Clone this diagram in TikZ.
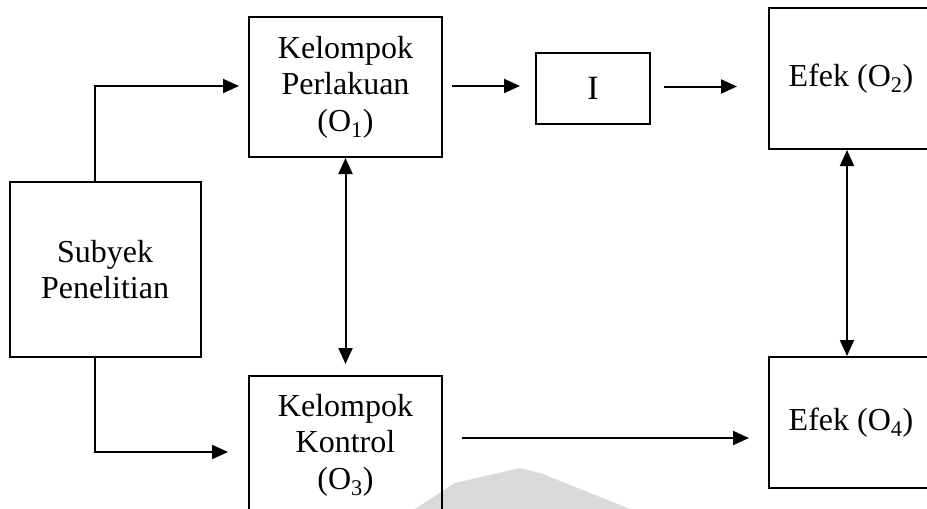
\documentclass[tikz,border=0pt]{standalone}
\usepackage{fontspec}
\setmainfont{Liberation Serif}
\usetikzlibrary{arrows.meta}

\begin{document}
\begin{tikzpicture}[x=1pt, y=-1pt,
  box/.style={draw, line width=2pt, inner sep=0pt, align=center,
    font=\fontsize{32}{36.5}\selectfont},
  arr/.style={line width=2pt, -{Triangle[length=16pt,width=14pt]}},
  darr/.style={line width=2pt, {Triangle[length=16pt,width=14pt]}-{Triangle[length=16pt,width=14pt]}}
]
\useasboundingbox (0,0) rectangle (927,509);
\clip (0,0) rectangle (927,509);

% faint watermark fragment at the lower edge
\fill[black!15] (415,509) -- (455,483) -- (520,468) -- (540,473) -- (630,509) -- cycle;

% boxes
\node[box, minimum width=191pt, minimum height=175pt] (subj) at (105,269.5) {Subyek\\Penelitian};
\node[box, minimum width=193pt, minimum height=140pt] (kp) at (345.5,87) {Kelompok\\Perlakuan\\(O\textsubscript{1})};
\node[box, minimum width=193pt, minimum height=138pt] (kk) at (345.5,445) {Kelompok\\Kontrol\\(O\textsubscript{3})};
\node[box, minimum width=114pt, minimum height=71pt, font=\fontsize{34}{38}\selectfont] (I) at (593,88.5) {I};
\node[box, minimum width=164pt, minimum height=141pt] (e2) at (851,78.5) {Efek (O\textsubscript{2})};
\node[box, minimum width=164pt, minimum height=131pt] (e4) at (851,422.5) {Efek (O\textsubscript{4})};

% connectors
\draw[arr] ([xshift=-10pt]subj.north) |- ([xshift=-9pt,yshift=1pt]kp.west);
\draw[arr] ([xshift=-10pt]subj.south) |- ([xshift=-20pt,yshift=-7pt]kk.west);
\draw[arr] ([xshift=9pt,yshift=1pt]kp.east) -- ([xshift=-15pt,yshift=1pt]I.west |- kp.east);
\draw[arr] ([xshift=13pt,yshift=2pt]I.east) -- ([xshift=-31pt,yshift=2pt]e2.west |- I.east);
\draw[darr] (kp.south) -- ([yshift=11pt]kk.north);
\draw[darr] ([xshift=-4pt]e2.south) -- ([xshift=-4pt]e4.north);
\draw[arr] ([xshift=19pt,yshift=7pt]kk.east) -- ([xshift=-19pt,yshift=7pt]e4.west |- kk.east);
\end{tikzpicture}
\end{document}
